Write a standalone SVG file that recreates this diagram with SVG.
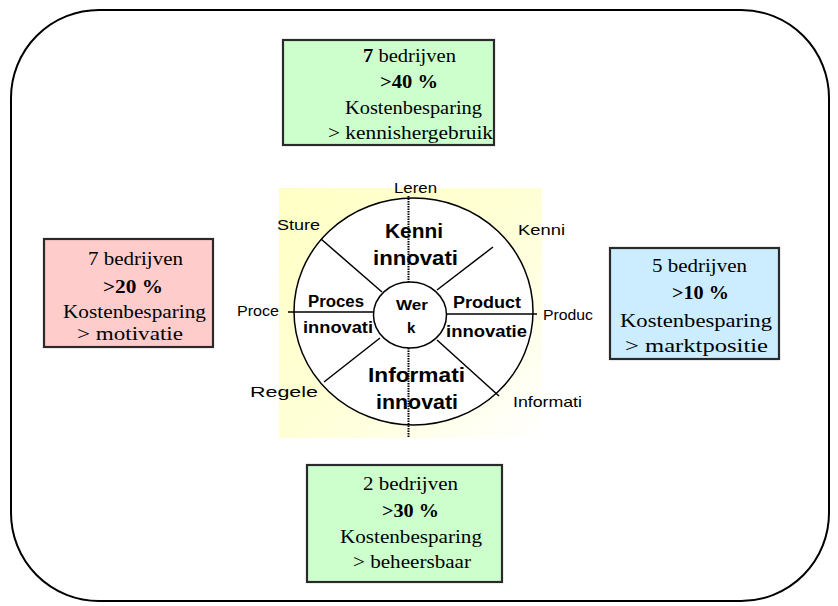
<svg xmlns="http://www.w3.org/2000/svg" width="838" height="606" viewBox="0 0 838 606">
<defs>
<linearGradient id="yg" x1="0" y1="0" x2="1" y2="1">
<stop offset="0" stop-color="#FFFFC4"/>
<stop offset="0.55" stop-color="#FFFFD8"/>
<stop offset="1" stop-color="#FFFFFF"/>
</linearGradient>
<style>
.box{stroke:#2a2a2a;stroke-width:2.2}
.bt{font-family:"Liberation Serif","Times New Roman",serif;font-size:19.5px;fill:#000;text-anchor:start}
.b{font-weight:bold}
.lbl{font-family:"Liberation Sans",Arial,sans-serif;font-size:15px;fill:#000}
.bl{font-family:"Liberation Sans",Arial,sans-serif;font-weight:bold;fill:#000}
.ln{stroke:#000;stroke-width:1.5;fill:none}
.dot{stroke:#000;stroke-width:2;stroke-dasharray:1.5 1;fill:none}
</style>
</defs>
<rect id="frame" x="11" y="10" width="818" height="591" rx="88" ry="88" fill="none" stroke="#000" stroke-width="2"/>

<g id="wheel">
<rect x="279" y="188" width="263" height="250" fill="url(#yg)"/>
<ellipse cx="413.5" cy="311.5" rx="119.5" ry="113.5" fill="#fff" stroke="#000" stroke-width="1.5"/>
</g>

<g id="connectors">
<line class="ln" x1="321" y1="239" x2="382" y2="292"/>
<line class="ln" x1="493" y1="247" x2="437" y2="290"/>
<line class="ln" x1="324" y1="382" x2="380" y2="338"/>
<line class="ln" x1="437" y1="340" x2="499" y2="396"/>
<line class="ln" x1="288" y1="312" x2="374" y2="312"/>
<line class="ln" x1="446" y1="314" x2="537" y2="314"/>
</g>

<g id="center">
<ellipse cx="410" cy="315" rx="36.5" ry="33" fill="#fff" stroke="#000" stroke-width="1.5"/>
<text class="bl" font-size="15" x="396" y="310" textLength="32" lengthAdjust="spacingAndGlyphs">Wer</text>
<text class="bl" font-size="15" x="407" y="333">k</text>
</g>

<g id="sector-kennis">
<text class="bl" font-size="20" x="385" y="238" textLength="58" lengthAdjust="spacingAndGlyphs">Kenni</text>
<text class="bl" font-size="20" x="373" y="265" textLength="85" lengthAdjust="spacingAndGlyphs">innovati</text>
</g>
<g id="sector-proces">
<text class="bl" font-size="16" x="308" y="307" textLength="56" lengthAdjust="spacingAndGlyphs">Proces</text>
<text class="bl" font-size="16" x="303" y="333" textLength="70" lengthAdjust="spacingAndGlyphs">innovati</text>
</g>
<g id="sector-product">
<text class="bl" font-size="16" x="453" y="308" textLength="68" lengthAdjust="spacingAndGlyphs">Product</text>
<text class="bl" font-size="16" x="446" y="337" textLength="81" lengthAdjust="spacingAndGlyphs">innovatie</text>
</g>
<g id="sector-informatie">
<text class="bl" font-size="20" x="368" y="382" textLength="97" lengthAdjust="spacingAndGlyphs">Informati</text>
<text class="bl" font-size="20" x="376" y="409" textLength="82" lengthAdjust="spacingAndGlyphs">innovati</text>
</g>

<g id="axis">
<line class="dot" x1="408.5" y1="196" x2="408.5" y2="282"/>
<line class="dot" x1="408.5" y1="348" x2="408.5" y2="437"/>
</g>

<g id="labels">
<text class="lbl" x="394" y="193" textLength="43" lengthAdjust="spacingAndGlyphs">Leren</text>
<text class="lbl" x="277" y="230" textLength="43" lengthAdjust="spacingAndGlyphs">Sture</text>
<text class="lbl" x="518" y="235" textLength="47" lengthAdjust="spacingAndGlyphs">Kenni</text>
<text class="lbl" x="237" y="316" textLength="42" lengthAdjust="spacingAndGlyphs">Proce</text>
<text class="lbl" x="543" y="320" textLength="50" lengthAdjust="spacingAndGlyphs">Produc</text>
<text class="lbl" x="250" y="397" textLength="68" lengthAdjust="spacingAndGlyphs">Regele</text>
<text class="lbl" x="513" y="407" textLength="69" lengthAdjust="spacingAndGlyphs">Informati</text>
</g>

<g id="box-top">
<rect class="box" x="283" y="40" width="211" height="105" fill="#CCFFCC"/>
<text class="bt" x="363" y="62" textLength="93" lengthAdjust="spacingAndGlyphs"><tspan class="b">7</tspan> bedrijven</text>
<text class="bt b" x="380" y="88" textLength="58" lengthAdjust="spacingAndGlyphs">&gt;40 %</text>
<text class="bt" x="345" y="114" textLength="137" lengthAdjust="spacingAndGlyphs">Kostenbesparing</text>
<text class="bt" x="328" y="139" textLength="165" lengthAdjust="spacingAndGlyphs">&gt; kennishergebruik</text>
</g>

<g id="box-left">
<rect class="box" x="44" y="239" width="169" height="108" fill="#FFCCCC"/>
<text class="bt" x="88" y="265" textLength="95" lengthAdjust="spacingAndGlyphs">7 bedrijven</text>
<text class="bt b" x="103" y="293" textLength="60" lengthAdjust="spacingAndGlyphs">&gt;20 %</text>
<text class="bt" x="63" y="318" textLength="143" lengthAdjust="spacingAndGlyphs">Kostenbesparing</text>
<text class="bt" x="77" y="340" textLength="106" lengthAdjust="spacingAndGlyphs">&gt; motivatie</text>
</g>

<g id="box-right">
<rect class="box" x="610" y="248" width="169" height="111" fill="#CCECFF"/>
<text class="bt" x="652" y="272" textLength="95" lengthAdjust="spacingAndGlyphs">5 bedrijven</text>
<text class="bt b" x="672" y="299" textLength="57" lengthAdjust="spacingAndGlyphs">&gt;10 %</text>
<text class="bt" x="620" y="327" textLength="152" lengthAdjust="spacingAndGlyphs">Kostenbesparing</text>
<text class="bt" x="625" y="352" textLength="143" lengthAdjust="spacingAndGlyphs">&gt; marktpositie</text>
</g>

<g id="box-bottom">
<rect class="box" x="307" y="465" width="195" height="117" fill="#CCFFCC"/>
<text class="bt" x="363" y="490" textLength="95" lengthAdjust="spacingAndGlyphs">2 bedrijven</text>
<text class="bt b" x="382" y="517" textLength="57" lengthAdjust="spacingAndGlyphs">&gt;30 %</text>
<text class="bt" x="340" y="543" textLength="142" lengthAdjust="spacingAndGlyphs">Kostenbesparing</text>
<text class="bt" x="353" y="568" textLength="118" lengthAdjust="spacingAndGlyphs">&gt; beheersbaar</text>
</g>
</svg>
